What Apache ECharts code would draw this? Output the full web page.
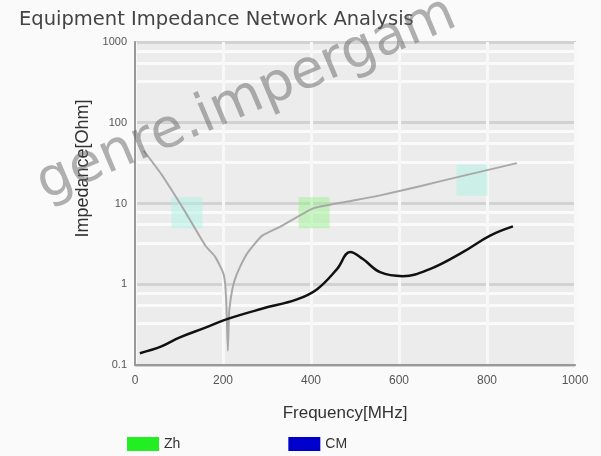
<!DOCTYPE html>
<html>
<head>
<meta charset="utf-8">
<script src="https://cdn.jsdelivr.net/npm/echarts@6/dist/echarts.min.js"></script>
<style>
  html, body { margin: 0; padding: 0; background: #fafafa; }
  #chart { width: 601px; height: 456px; }
</style>
</head>
<body>
<div id="chart"></div>
<script>
// Zh curve (MHz, Ohm)
var zhFreq = [20, 60, 114, 160, 182, 200, 205, 208, 211, 214, 220, 227, 240, 257, 289, 334, 405, 480, 557, 650, 745, 868];
var zhVal = [45, 23, 7.9, 3, 2.2, 1.4, 1.0, 0.5, 0.15, 0.45, 0.8, 1.15, 1.7, 2.5, 4, 5.3, 8.7, 10.5, 12.6, 16.5, 22, 31.6];

// CM curve
var cmFreq = [11, 60, 102, 160, 209, 290, 368, 414, 459, 489, 518, 557, 609, 670, 745, 807, 859];
var cmVal = [0.14, 0.17, 0.22, 0.29, 0.37, 0.5, 0.65, 0.87, 1.54, 2.5, 2.05, 1.41, 1.26, 1.54, 2.5, 4, 5.2];

// highlighted points on Zh
var markFreq = [118, 407, 766];
var markVal = [7.7, 7.7, 19.4];
var markColor = ['rgba(170,245,225,0.6)', 'rgba(150,240,140,0.6)', 'rgba(170,245,225,0.6)'];

var xTicks = [0, 200, 400, 600, 800, 1000];

var chart = echarts.init(document.getElementById('chart'));

var zhData = zhFreq.map(function (f, i) { return [f, zhVal[i]]; });
var cmData = cmFreq.map(function (f, i) { return [f, cmVal[i]]; });
var markData = markFreq.map(function (f, i) {
  return { value: [f, markVal[i]], itemStyle: { color: markColor[i] } };
});

var option = {
  backgroundColor: '#fafafa',
  animation: false,
  title: {
    text: 'Equipment Impedance Network Analysis',
    left: 14,
    top: 5,
    textStyle: { fontSize: 19.5, fontWeight: 'normal', color: '#444', fontFamily: 'DejaVu Sans' }
  },
  legend: {
    left: 122,
    top: 432,
    itemGap: 108,
    itemWidth: 32,
    itemHeight: 14,
    textStyle: { color: '#333', fontSize: 14 },
    data: [
      { name: 'Zh', icon: 'rect', itemStyle: { color: '#22ee22' } },
      { name: 'CM', icon: 'rect', itemStyle: { color: '#0000cc' } }
    ]
  },
  grid: {
    left: 135,
    right: 26,
    top: 42,
    bottom: 91,
    show: true,
    backgroundColor: '#ececec',
    borderColor: '#c8c8c8',
    borderWidth: 2
  },
  xAxis: {
    type: 'value',
    min: 0,
    max: 1000,
    interval: 200,
    name: 'Frequency[MHz]',
    nameLocation: 'middle',
    nameGap: 40,
    nameTextStyle: { color: '#333', fontSize: 17, padding: [0, 20, 0, 0] },
    axisLine: { lineStyle: { color: '#999', width: 2 } },
    axisTick: { show: false },
    axisLabel: {
      color: '#555',
      fontSize: 12,
      margin: 10,
      formatter: function (v) { return xTicks.indexOf(v) >= 0 ? String(v) : ''; }
    },
    splitLine: { lineStyle: { color: '#f8f8f8', width: 3 } }
  },
  yAxis: {
    type: 'log',
    logBase: 10,
    min: 0.1,
    max: 1000,
    name: 'Impedance[Ohm]',
    nameLocation: 'middle',
    nameGap: 42,
    nameTextStyle: { color: '#333', fontSize: 18, padding: [0, 0, 0, 70] },
    axisLine: { show: true, lineStyle: { color: '#999', width: 2 } },
    axisTick: { show: false },
    axisLabel: { color: '#555', fontSize: 11, margin: 8, formatter: function (v) { return String(v); } },
    splitLine: { lineStyle: { color: '#d2d2d2', width: 3 } },
    minorTick: { show: false, splitNumber: 4 },
    minorSplitLine: { show: true, lineStyle: { color: '#fafafa', width: 3 } }
  },
  graphic: [{
    type: 'text',
    rotation: 0.4,
    x: 50,
    y: 212,
    style: {
      text: 'genre.impergam',
      fill: 'rgba(100,100,100,0.5)',
      font: '54px "DejaVu Sans"',
      textVerticalAlign: 'bottom'
    },
    z: 100
  }],
  series: [
    {
      name: 'Zh',
      type: 'line',
      smooth: 0.15,
      symbol: 'none',
      data: zhData,
      itemStyle: { color: '#22ee22' },
      lineStyle: { color: '#a8a8a8', width: 2 },
      z: 3
    },
    {
      name: 'CM',
      type: 'line',
      smooth: 0.4,
      symbol: 'none',
      data: cmData,
      itemStyle: { color: '#0000cc' },
      lineStyle: { color: '#111', width: 2.5 },
      z: 4
    },
    {
      name: 'marks',
      type: 'scatter',
      symbol: 'rect',
      symbolSize: [31, 31],
      data: markData,
      z: 2
    }
  ]
};

chart.setOption(option);
</script>
</body>
</html>
